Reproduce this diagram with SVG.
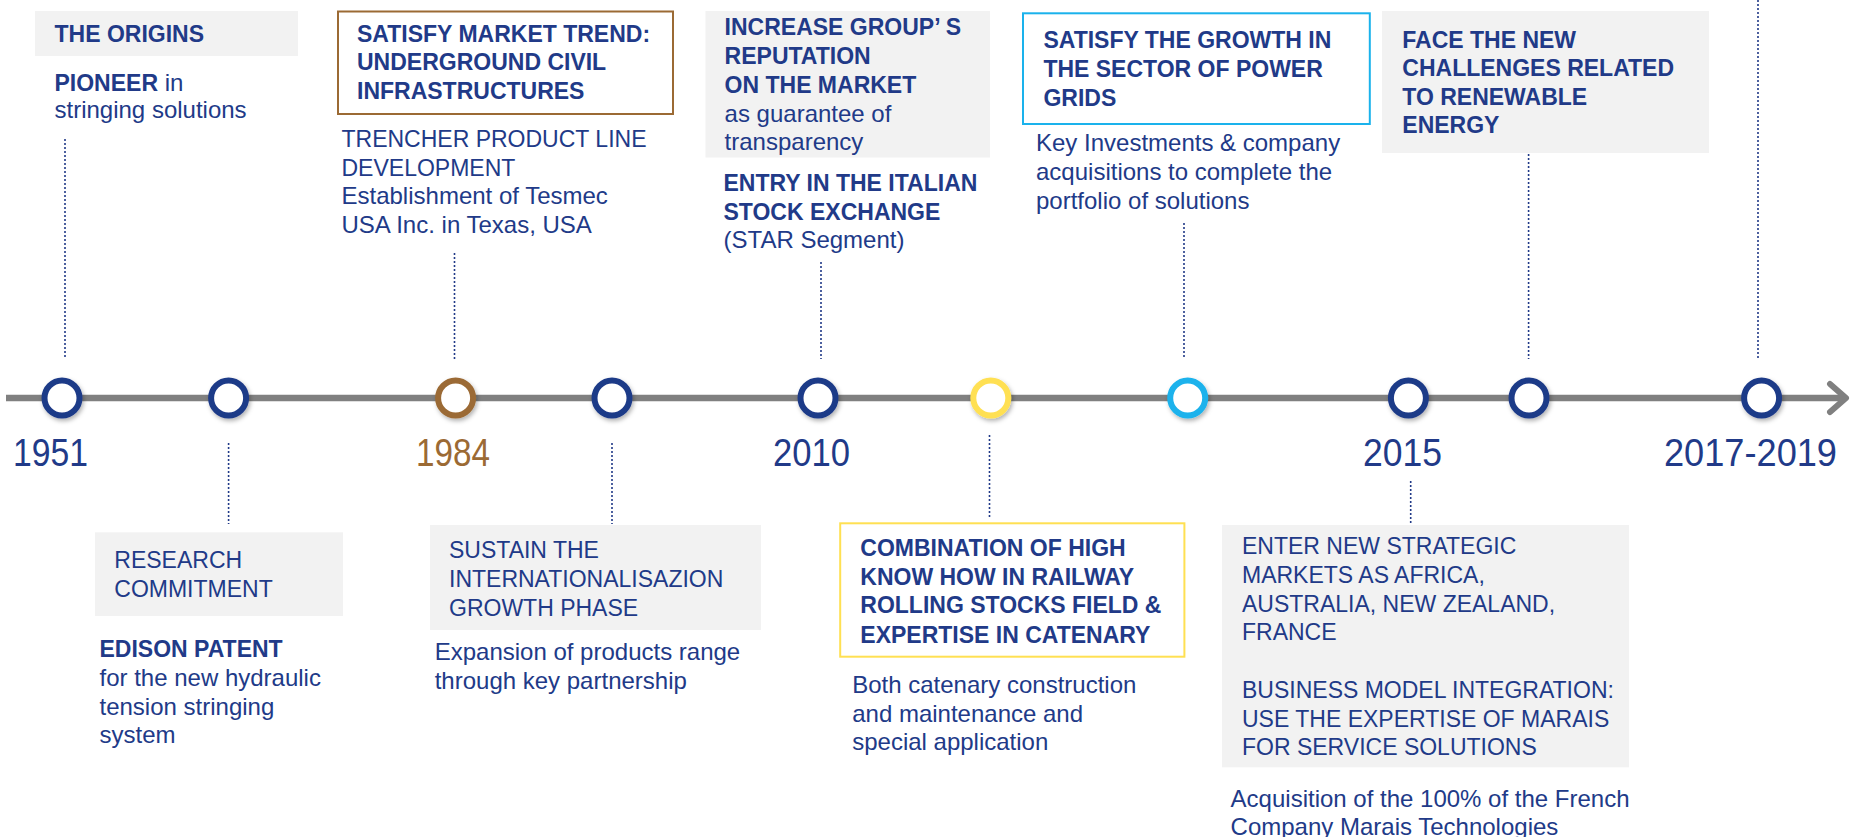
<svg xmlns="http://www.w3.org/2000/svg" width="1850" height="837" viewBox="0 0 1850 837">
<defs>
<filter id="sh" x="-50%" y="-50%" width="200%" height="200%">
<feDropShadow dx="1.5" dy="2.5" stdDeviation="2" flood-color="#000" flood-opacity="0.3"/>
</filter>
<style>
text{font-family:"Liberation Sans",Arial,sans-serif;fill:#213a88}
.b{font-weight:bold;font-size:23px}
.r{font-size:24px}
.ru{font-size:23px}
.yr{font-size:39px}
.gray{fill:#f2f2f2}
.dot{stroke:#213a88;stroke-width:1.6;stroke-dasharray:2 2;fill:none}
.ms{fill:#fff;stroke-width:6;filter:url(#sh)}
</style>
</defs>
<rect width="1850" height="837" fill="#fff"/>

<g id="connectors">
<line x1="6" y1="398" x2="1843" y2="398" stroke="#808080" stroke-width="6.5"/>
<polyline points="1830,384 1846,398 1830,412" fill="none" stroke="#808080" stroke-width="6" stroke-linecap="round" stroke-linejoin="round"/>
<line class="dot" x1="65" y1="139" x2="65" y2="359"/>
<line class="dot" x1="228.6" y1="443" x2="228.6" y2="524"/>
<line class="dot" x1="454.5" y1="253" x2="454.5" y2="359"/>
<line class="dot" x1="612" y1="443" x2="612" y2="524"/>
<line class="dot" x1="821" y1="262" x2="821" y2="359"/>
<line class="dot" x1="989.5" y1="435" x2="989.5" y2="517"/>
<line class="dot" x1="1184" y1="223" x2="1184" y2="359"/>
<line class="dot" x1="1410.7" y1="481" x2="1410.7" y2="524"/>
<line class="dot" x1="1528.6" y1="154" x2="1528.6" y2="359"/>
<line class="dot" x1="1758" y1="0" x2="1758" y2="359"/>
</g>

<g id="m1951"><circle class="ms" cx="62" cy="398" r="17.5" stroke="#1f3a88"/><text class="yr" x="13" y="466" textLength="75" lengthAdjust="spacingAndGlyphs">1951</text></g>
<g id="m2"><circle class="ms" cx="228.6" cy="398" r="17.5" stroke="#1f3a88"/></g>
<g id="m1984"><circle class="ms" cx="455.6" cy="398" r="17.5" stroke="#9b6a34"/><text class="yr" x="416" y="466" textLength="74" lengthAdjust="spacingAndGlyphs" style="fill:#9b6a34">1984</text></g>
<g id="m4"><circle class="ms" cx="612" cy="398" r="17.5" stroke="#1f3a88"/></g>
<g id="m2010"><circle class="ms" cx="818" cy="398" r="17.5" stroke="#1f3a88"/><text class="yr" x="773" y="466" textLength="77" lengthAdjust="spacingAndGlyphs">2010</text></g>
<g id="m6"><circle class="ms" cx="990.8" cy="398" r="17.5" stroke="#ffe052"/></g>
<g id="m7"><circle class="ms" cx="1187.7" cy="398" r="17.5" stroke="#1ab2ec"/></g>
<g id="m2015"><circle class="ms" cx="1408.4" cy="398" r="17.5" stroke="#1f3a88"/><text class="yr" x="1363" y="466" textLength="79" lengthAdjust="spacingAndGlyphs">2015</text></g>
<g id="m9"><circle class="ms" cx="1529" cy="398" r="17.5" stroke="#1f3a88"/></g>
<g id="m2017"><circle class="ms" cx="1761.6" cy="398" r="17.5" stroke="#1f3a88"/><text class="yr" x="1664" y="466" textLength="173" lengthAdjust="spacingAndGlyphs">2017-2019</text></g>

<g id="origins">
<rect class="gray" x="35" y="11" width="263" height="45"/>
<text class="b" x="54.5" y="41.7">THE ORIGINS</text>
<text x="54.5" y="91"><tspan class="b">PIONEER</tspan><tspan class="r"> in</tspan></text>
<text class="r" x="54.5" y="118">stringing solutions</text>
</g>

<g id="underground">
<rect x="338" y="11.5" width="335" height="102.5" fill="#fff" stroke="#9b6a34" stroke-width="2"/>
<text class="b" x="357"><tspan x="357" y="41.7">SATISFY MARKET TREND:</tspan><tspan x="357" y="70">UNDERGROUND CIVIL</tspan><tspan x="357" y="99">INFRASTRUCTURES</tspan></text>
<text x="341.5"><tspan class="ru" x="341.5" y="146.7">TRENCHER PRODUCT LINE</tspan><tspan class="ru" x="341.5" y="175.7">DEVELOPMENT</tspan><tspan class="r" x="341.5" y="204.3">Establishment of Tesmec</tspan><tspan class="r" x="341.5" y="233.3">USA Inc. in Texas, USA</tspan></text>
</g>

<g id="reputation">
<rect class="gray" x="705.5" y="11" width="284.5" height="146.5"/>
<text x="724.6"><tspan class="b" x="724.6" y="35">INCREASE GROUP’ S</tspan><tspan class="b" x="724.6" y="64">REPUTATION</tspan><tspan class="b" x="724.6" y="93.3">ON THE MARKET</tspan><tspan class="r" x="724.6" y="121.7">as guarantee of</tspan><tspan class="r" x="724.6" y="149.5">transparency</tspan></text>
<text x="723.5"><tspan class="b" x="723.5" y="191">ENTRY IN THE ITALIAN</tspan><tspan class="b" x="723.5" y="220">STOCK EXCHANGE</tspan><tspan class="r" x="723.5" y="248.3">(STAR Segment)</tspan></text>
</g>

<g id="powergrids">
<rect x="1023" y="13.3" width="346.8" height="110.7" fill="#fff" stroke="#1ab2ec" stroke-width="2"/>
<text class="b"><tspan x="1043.4" y="48.3">SATISFY THE GROWTH IN</tspan><tspan x="1043.4" y="77.3">THE SECTOR OF POWER</tspan><tspan x="1043.4" y="106">GRIDS</tspan></text>
<text class="r"><tspan x="1036" y="150.7">Key Investments &amp; company</tspan><tspan x="1036" y="180">acquisitions to complete the</tspan><tspan x="1036" y="209">portfolio of solutions</tspan></text>
</g>

<g id="renewable">
<rect class="gray" x="1382" y="11" width="327" height="142"/>
<text class="b"><tspan x="1402.3" y="47.7">FACE THE NEW</tspan><tspan x="1402.3" y="76">CHALLENGES RELATED</tspan><tspan x="1402.3" y="105">TO RENEWABLE</tspan><tspan x="1402.3" y="133.3">ENERGY</tspan></text>
</g>

<g id="research">
<rect class="gray" x="95" y="532.3" width="248" height="83.7"/>
<text class="ru"><tspan x="114.3" y="568.3">RESEARCH</tspan><tspan x="114.3" y="597.3">COMMITMENT</tspan></text>
<text x="99.5"><tspan class="b" x="99.5" y="657.3">EDISON PATENT</tspan><tspan class="r" x="99.5" y="685.7">for the new hydraulic</tspan><tspan class="r" x="99.5" y="715">tension stringing</tspan><tspan class="r" x="99.5" y="743.3">system</tspan></text>
</g>

<g id="internationalisation">
<rect class="gray" x="430" y="525" width="331" height="105"/>
<text class="ru"><tspan x="449" y="558.3">SUSTAIN THE</tspan><tspan x="449" y="587.3">INTERNATIONALISAZION</tspan><tspan x="449" y="616">GROWTH PHASE</tspan></text>
<text class="r"><tspan x="434.7" y="660">Expansion of products range</tspan><tspan x="434.7" y="688.7">through key partnership</tspan></text>
</g>

<g id="railway">
<rect x="840.2" y="523.3" width="344.2" height="133.4" fill="#fff" stroke="#ffe052" stroke-width="2"/>
<text class="b"><tspan x="860.3" y="556">COMBINATION OF HIGH</tspan><tspan x="860.3" y="585">KNOW HOW IN RAILWAY</tspan><tspan x="860.3" y="613.3">ROLLING STOCKS FIELD &amp;</tspan><tspan x="860.3" y="642.7">EXPERTISE IN CATENARY</tspan></text>
<text class="r"><tspan x="852.2" y="692.7">Both catenary construction</tspan><tspan x="852.2" y="721.7">and maintenance and</tspan><tspan x="852.2" y="750">special application</tspan></text>
</g>

<g id="marais">
<rect class="gray" x="1222" y="525" width="407" height="242.3"/>
<text class="ru"><tspan x="1242" y="554">ENTER NEW STRATEGIC</tspan><tspan x="1242" y="582.7">MARKETS AS AFRICA,</tspan><tspan x="1242" y="611.7">AUSTRALIA, NEW ZEALAND,</tspan><tspan x="1242" y="640">FRANCE</tspan><tspan x="1242" y="698.3">BUSINESS MODEL INTEGRATION:</tspan><tspan x="1242" y="726.7">USE THE EXPERTISE OF MARAIS</tspan><tspan x="1242" y="755">FOR SERVICE SOLUTIONS</tspan></text>
<text class="r"><tspan x="1230.6" y="806.7">Acquisition of the 100% of the French</tspan><tspan x="1230.6" y="835">Company Marais Technologies</tspan></text>
</g>
</svg>
